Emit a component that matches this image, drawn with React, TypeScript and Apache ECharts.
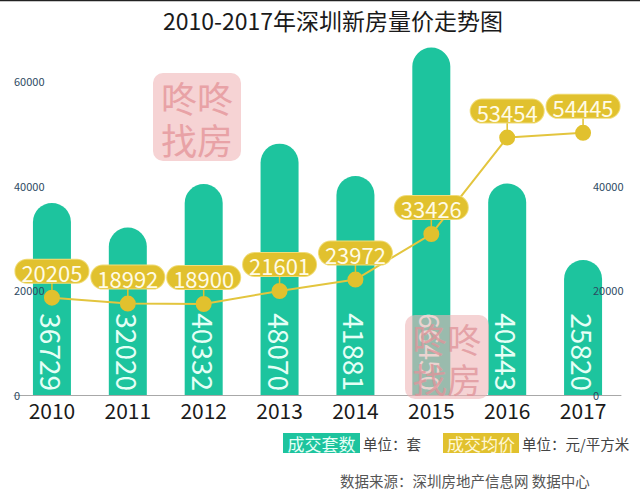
import React, { useEffect, useRef } from "react";
import * as echarts from "echarts";

const years = ["2010", "2011", "2012", "2013", "2014", "2015", "2016", "2017"];
const volumes = [36729, 32020, 40332, 48070, 41881, 66450, 40443, 25820];
const prices = [20205, 18992, 18900, 21601, 23972, 33426, 53454, 54445];
const leftTickMax = 60000;
const rightTickMax = 40000;
const axisMax = 70000;
const tickStep = 20000;
const priceAxisMax = 76000;

const FONT = '"Noto Sans CJK SC", "Noto Sans", sans-serif';
const TEAL = "#1dc49e";
const GOLD = "#e1c12e";

function watermark(
  x: number,
  y: number,
  size: number,
  bg: string,
  bgOpacity: number,
  fg: string,
  fgOpacity: number
) {
  return {
    type: "group",
    x,
    y,
    z: 100,
    children: [
      {
        type: "rect",
        z: 100,
        shape: { x: 0, y: 0, width: size, height: size, r: 10 },
        style: { fill: bg, opacity: bgOpacity },
      },
      {
        type: "text",
        z: 101,
        x: size / 2,
        y: size * 0.27,
        style: {
          text: "咚咚",
          fontSize: size * 0.41,
          fontFamily: FONT,
          fill: fg,
          align: "center",
          verticalAlign: "middle",
          opacity: fgOpacity,
        },
      },
      {
        type: "text",
        z: 101,
        x: size / 2,
        y: size * 0.75,
        style: {
          text: "找房",
          fontSize: size * 0.41,
          fontFamily: FONT,
          fill: fg,
          align: "center",
          verticalAlign: "middle",
          opacity: fgOpacity,
        },
      },
    ],
  };
}

export default function App() {
  const ref = useRef<HTMLDivElement>(null);
  useEffect(() => {
    if (!ref.current) return;
    const chart = echarts.init(ref.current, null, { renderer: "svg" });
    chart.setOption({
      animation: false,
      backgroundColor: "#ffffff",
      textStyle: { fontFamily: FONT },
      grid: { left: 14, right: 19, top: 29, bottom: 104 },
      xAxis: {
        type: "category",
        data: years,
        axisLine: { lineStyle: { color: "#a8a8a8", width: 1 } },
        axisTick: { show: false },
        axisLabel: { fontSize: 21, color: "#1a1a1a", margin: 4, fontFamily: FONT },
      },
      yAxis: [
        {
          type: "value",
          position: "left",
          min: 0,
          max: axisMax,
          interval: tickStep,
          z: 10,
          axisLine: { show: false },
          axisTick: { show: false },
          splitLine: { show: false },
          axisLabel: {
            inside: true,
            margin: 0,
            fontSize: 11,
            color: "#2e4a62",
            formatter: (v: number) => (v <= leftTickMax ? String(v) : ""),
          },
        },
        {
          type: "value",
          position: "right",
          min: 0,
          max: axisMax,
          interval: tickStep,
          z: 10,
          axisLine: { show: false },
          axisTick: { show: false },
          splitLine: { show: false },
          axisLabel: {
            inside: true,
            margin: 28,
            align: "left",
            fontSize: 11,
            color: "#2e4a62",
            formatter: (v: number) => (v <= rightTickMax ? String(v) : ""),
          },
        },
        {
          type: "value",
          show: false,
          min: 0,
          max: priceAxisMax,
        },
      ],
      series: [
        {
          type: "bar",
          data: volumes,
          barWidth: 38,
          itemStyle: { color: TEAL, borderRadius: [19, 19, 0, 0] },
          label: {
            show: true,
            position: "insideBottom",
            rotate: -90,
            align: "right",
            verticalAlign: "middle",
            distance: 4,
            fontSize: 28,
            color: "#e6fff6",
            fontFamily: FONT,
          },
        },
        {
          type: "line",
          yAxisIndex: 2,
          data: prices,
          symbol:
            "path://M7.25,0L8.75,0L8.75,10L7.25,10Z M0,15A8,8 0 1,1 16,15A8,8 0 1,1 0,15Z",
          symbolSize: [16, 23],
          symbolOffset: [0, -3.5],
          symbolKeepAspect: false,
          itemStyle: { color: GOLD },
          lineStyle: { color: "#e3c53e", width: 2 },
          label: {
            show: true,
            position: "top",
            distance: 0,
            fontSize: 22,
            color: "#fffbe6",
            backgroundColor: GOLD,
            borderColor: "#f0dc78",
            borderWidth: 1,
            borderRadius: 12,
            padding: [1, 6, 0, 6],
            fontFamily: FONT,
          },
          z: 12,
        },
      ],
      graphic: [
        {
          type: "rect",
          shape: { x: 0, y: 0, width: 640, height: 1.3 },
          style: { fill: "#222" },
        },
        {
          type: "text",
          x: 333,
          y: 19.5,
          style: {
            text: "2010-2017年深圳新房量价走势图",
            fontSize: 23,
            fontFamily: FONT,
            fill: "#1a1a1a",
            align: "center",
            verticalAlign: "middle",
          },
        },
        watermark(153, 73, 88, "#f6d3d4", 1, "#e8a2a6", 1),
        watermark(405, 315, 84, "#eeb5b8", 0.6, "#e0959b", 0.8),
        {
          type: "rect",
          shape: { x: 283, y: 433, width: 77, height: 20 },
          style: { fill: TEAL },
        },
        {
          type: "text",
          x: 321.5,
          y: 443,
          style: {
            text: "成交套数",
            fontSize: 17,
            fontFamily: FONT,
            fill: "#e6fff6",
            align: "center",
            verticalAlign: "middle",
          },
        },
        {
          type: "text",
          x: 363,
          y: 443,
          style: {
            text: "单位：套",
            fontSize: 14.5,
            fontFamily: FONT,
            fill: "#444",
            align: "left",
            verticalAlign: "middle",
          },
        },
        {
          type: "rect",
          shape: { x: 443, y: 433, width: 76, height: 20 },
          style: { fill: GOLD },
        },
        {
          type: "text",
          x: 481,
          y: 443,
          style: {
            text: "成交均价",
            fontSize: 17,
            fontFamily: FONT,
            fill: "#fff8d6",
            align: "center",
            verticalAlign: "middle",
          },
        },
        {
          type: "text",
          x: 522,
          y: 443,
          style: {
            text: "单位：元/平方米",
            fontSize: 14.5,
            fontFamily: FONT,
            fill: "#444",
            align: "left",
            verticalAlign: "middle",
          },
        },
        {
          type: "text",
          x: 340,
          y: 480,
          style: {
            text: "数据来源：深圳房地产信息网 数据中心",
            fontSize: 14.5,
            fontFamily: FONT,
            fill: "#555",
            align: "left",
            verticalAlign: "middle",
          },
        },
      ],
    });
    return () => chart.dispose();
  }, []);
  return (
    <div
      ref={ref}
      style={{ position: "fixed", left: 0, top: 0, width: 640, height: 499 }}
    />
  );
}
